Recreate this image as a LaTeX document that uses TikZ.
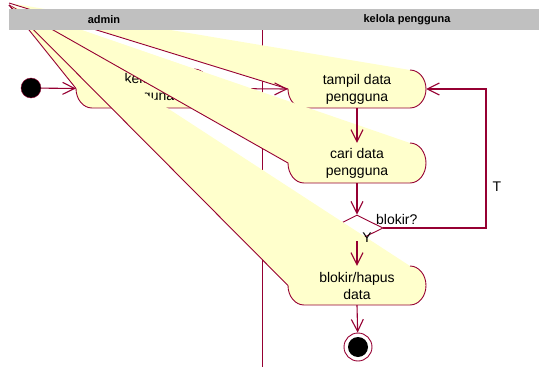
\documentclass[tikz,border=0pt]{standalone}
\usepackage{fontspec}
\setmainfont{Liberation Sans}
\usetikzlibrary{arrows.meta,shapes.geometric}
\definecolor{rose}{RGB}{150,0,50}
\definecolor{actyellow}{RGB}{255,255,204}
\definecolor{headgray}{RGB}{192,192,192}
\begin{document}
\begin{tikzpicture}
    [
    x=1pt, y=-1pt,
    fan/.style={fill=actyellow,draw=rose,line width=0.9pt},
    act/.style={rectangle,inner sep=0pt,align=center,font=\fontsize{14}{17}\selectfont},
    startstate/.style={circle,draw=rose,fill=black,inner sep=0pt,minimum size=20pt},
    endstate/.style={circle,draw=rose,fill=white,line width=0.9pt,inner sep=0pt,minimum size=28pt,
      path picture={\fill [black] (path picture bounding box.center) circle (10pt);}},
    decision/.style={diamond,draw=rose,fill=white,line width=0.9pt,inner sep=0pt,minimum width=52pt,minimum height=26pt},
    flow/.style={draw=rose,line width=1.1pt,-{Straight Barb[length=12pt,width=12pt]}},
    guard/.style={inner sep=0pt,font=\fontsize{14}{17}\selectfont},
    lanetitle/.style={inner sep=0pt,font=\fontsize{11}{13}\selectfont\bfseries}
    ]
    \useasboundingbox (0,0) rectangle (539,367);
    \draw [rose, line width=1pt] (262,30) -- (262,367);

    \filldraw [fan] (9,5) -- (76,88.5) .. controls (76,99.3) and (83.2,108) .. (92,108) -- (194,108)
      .. controls (202.8,108) and (210,99.3) .. (210,88.5) .. controls (210,77.7) and (202.8,69) .. (194,69);
    \node (kelola) at (143,88.5) [act, minimum width=134pt, minimum height=39pt] {kelola\\pengguna};

    \filldraw [fan] (9,3) -- (288,89) .. controls (288,99.5) and (295.2,108) .. (304,108) -- (410,108)
      .. controls (418.8,108) and (426,99.5) .. (426,89) .. controls (426,78.5) and (418.8,70) .. (410,70);
    \node (tampil) at (357,89) [act, minimum width=138pt, minimum height=38pt] {tampil data\\pengguna};
    \draw [flow] (kelola.east) -- (tampil.west);

    \filldraw [fan] (9,5) -- (288,163) .. controls (288,174) and (295.2,183) .. (304,183) -- (410,183)
      .. controls (418.8,183) and (426,174) .. (426,163) .. controls (426,152) and (418.8,143) .. (410,143);
    \node (cari) at (357,163) [act, minimum width=138pt, minimum height=40pt] {cari data\\pengguna};

    \node (dec) at (357,228) [decision] {};

    \filldraw [fan] (9,5) -- (288,285.5) .. controls (288,296.3) and (295.2,305) .. (304,305) -- (410,305)
      .. controls (418.8,305) and (426,296.3) .. (426,285.5) .. controls (426,274.7) and (418.8,266) .. (410,266);
    \node (blokir) at (357,285.5) [act, minimum width=138pt, minimum height=39pt] {blokir/hapus\\data};

    \fill [headgray] (9,9) rectangle (539,30);
    \node (admin) at (104,19.5) [lanetitle] {admin};
    \node (lane) at (407,19.5) [lanetitle] {kelola pengguna};

    \node (start) at (31,88) [startstate] {};
    \node (end) at (358,347) [endstate] {};
    \coordinate (loop) at (486,228);

    \draw [flow] (start) -- (kelola.west);
    \draw [flow] (tampil.south) -- (cari.north);
    \draw [flow] (cari.south) -- (dec.north);
    \draw [flow] (dec.east) -- (loop) |- (tampil.east);
    \draw [flow] (dec.south) -- (blokir.north);
    \draw [flow] (blokir.south) -- (end);

    \node (ask) at (376,219) [guard, anchor=west] {blokir?};
    \node (no) at (497,187) [guard] {T};
    \node (yes) at (367,238) [guard] {Y};
  \end{tikzpicture}
\end{document}
